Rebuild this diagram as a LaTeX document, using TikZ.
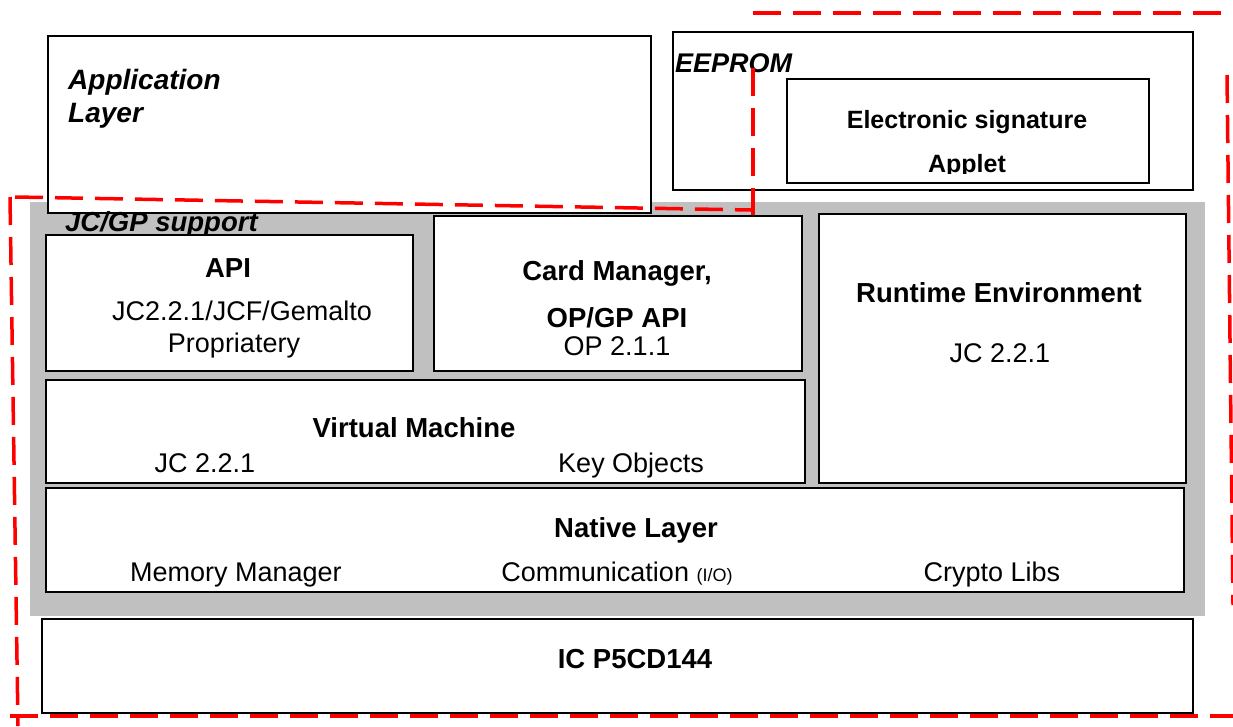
\documentclass[tikz,border=0pt]{standalone}
\usepackage{fontspec}
\setmainfont{Liberation Sans}
\definecolor{framegray}{RGB}{192,192,192}
\tikzset{
  layer/.style={draw, line width=1.6pt, fill=white, anchor=north west, inner sep=0pt},
  title/.style={font=\fontsize{27.5}{31}\selectfont\bfseries, anchor=base, inner sep=0pt},
  caption/.style={font=\fontsize{27}{31}\selectfont, anchor=base, inner sep=0pt},
  heading/.style={font=\fontsize{28}{33}\selectfont\bfseries\itshape, anchor=base west, inner sep=0pt},
  border/.style={red, line width=3.5pt, dash pattern=on 28pt off 12pt},
}
\begin{document}
\begin{tikzpicture}[x=1pt, y=-1pt]
\useasboundingbox (0,0) rectangle (1233,726);
% support frame
\fill[framegray] (30,202) rectangle (1205,616);
% upper layers
\node[layer, minimum width=603, minimum height=177] (app) at (47,35) {};
\node[heading, align=left, anchor=north west] (applabel) at (68,69) {Application\\Layer};
\node[layer, minimum width=520, minimum height=158] (eeprom) at (672,31) {};
\node[heading, font=\fontsize{27}{31}\selectfont\bfseries\itshape] (eepromlabel) at (675,72) {EEPROM};
\node[layer, minimum width=362, minimum height=104] (esig) at (786,78) {};
\node[title, font=\fontsize{25}{29}\selectfont\bfseries] (esiglabel) at (967,128) {Electronic signature};
\begin{scope}
\clip (786,78) rectangle (1148,173);
\node[title, font=\fontsize{25}{29}\selectfont\bfseries] (applet) at (967,172) {Applet};
\end{scope}
% JC/GP support
\node[heading, font=\fontsize{27.5}{31}\selectfont\bfseries\itshape] (support) at (65,231) {JC/GP support};
\node[layer, minimum width=367, minimum height=136] (api) at (45,234) {};
\node[title] (apilabel) at (228,277) {API};
\node[caption] (apiver) at (242,320) {JC2.2.1/JCF/Gemalto};
\node[caption] (apiprop) at (234,352) {Propriatery};
\node[layer, minimum width=368, minimum height=155] (cm) at (433,215) {};
\node[title] (cmlabel) at (617,280) {Card Manager,};
\node[title] (cmapi) at (617,327) {OP/GP API};
\node[caption] (cmver) at (617,355) {OP 2.1.1};
\node[layer, minimum width=367, minimum height=269] (rte) at (818,213) {};
\node[title] (rtelabel) at (999,302) {Runtime Environment};
\node[caption] (rtever) at (1000,362) {JC 2.2.1};
\node[layer, minimum width=759, minimum height=103] (vm) at (45,379) {};
\node[title] (vmlabel) at (414,437) {Virtual Machine};
\node[caption] (vmver) at (205,472) {JC 2.2.1};
\node[caption] (vmkeys) at (631,472) {Key Objects};
\node[layer, minimum width=1138, minimum height=104] (native) at (45,487) {};
\node[title] (nativelabel) at (636,537) {Native Layer};
\node[caption] (memory) at (236,581) {Memory Manager};
\node[caption] (comm) at (617,581) {Communication {\fontsize{18}{20}\selectfont(I/O)}};
\node[caption] (crypto) at (992,581) {Crypto Libs};
% chip
\node[layer, minimum width=1151, minimum height=94] (ic) at (41,618) {};
\node[title] (iclabel) at (635,668) {IC P5CD144};
% evaluation boundary
\draw[border] (753,13) -- (1233,13);
\draw[border] (1227,75) -- (1233,605);
\draw[border] (10,716) -- (1233,716);
\draw[border] (10,197) -- (18,726);
\draw[border] (15,197) -- (751,210);
\draw[border] (753,68) -- (753,215);
\end{tikzpicture}
\end{document}
